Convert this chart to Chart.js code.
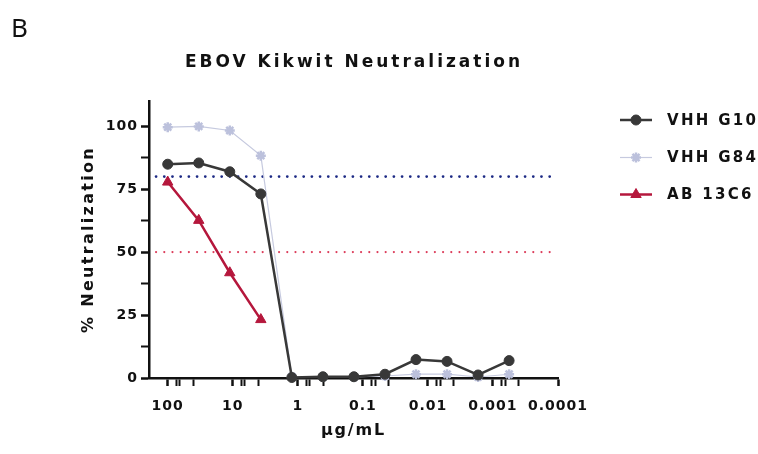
<!DOCTYPE html>
<html><head><meta charset="utf-8">
<script src="https://cdn.jsdelivr.net/npm/chart.js@4.4.1/dist/chart.umd.min.js"></script>
<style>html,body{margin:0;padding:0;background:#fff}canvas{display:block}</style>
</head><body>
<canvas id="c" width="758" height="454"></canvas>
<script>
// ---- data ----
const concentrations = [100, 33.33, 11.11, 3.704, 1.235, 0.4115, 0.1372, 0.04572, 0.01524, 0.005081, 0.001694, 0.0005645];
const vhhG10 = [84.9, 85.4, 81.9, 73.1, 0.2, 0.5, 0.5, 1.5, 7.3, 6.6, 1.2, 6.9];
const vhhG84 = [99.6, 99.9, 98.3, 88.3, 0.5, 0.4, 0.4, 0.8, 1.5, 1.5, 0.4, 1.5];
const ab13C6 = [77.8, 62.6, 41.8, 23.2];
const seriesNames = ['VHH G10', 'VHH G84', 'AB 13C6'];
const xTickValues = [100, 10, 1, 0.1, 0.01, 0.001, 0.0001];
const xTickLabels = ['100', '10', '1', '0.1', '0.01', '0.001', '0.0001'];
const xMinorFactors = [0.73, 0.65, 0.4];
const yTickValues = [0, 25, 50, 75, 100];
const yMinorValues = [12.5, 37.5, 62.5, 87.5];
const thresholdX = [151, 0.000119];
const threshold80 = [80, 80];
const threshold50 = [50, 50];

const FONT = '"DejaVu Sans", "Liberation Sans", Arial, sans-serif';
Chart.defaults.font.family = FONT;
Chart.defaults.color = '#111';

const pts = (ys, xs) => ys.map((y, i) => ({ x: xs[i], y }));

const colors = { g10: '#383838', g84: '#c6cadf', ab: '#b5173c' };

const datasets = [
  { label: seriesNames[0], data: pts(vhhG10, concentrations), borderColor: colors.g10, backgroundColor: colors.g10,
    borderWidth: 2.5, pointStyle: 'circle', pointRadius: 5, pointBorderWidth: 1, pointBorderColor: colors.g10, clip: false },
  { label: seriesNames[1], data: pts(vhhG84, concentrations), borderColor: colors.g84, backgroundColor: '#d8dbec',
    borderWidth: 1.2, pointStyle: 'star', pointRadius: 5, pointBorderWidth: 2.5, pointBorderColor: '#bcc1dc', clip: false },
  { label: seriesNames[2], data: pts(ab13C6, concentrations), borderColor: colors.ab, backgroundColor: colors.ab,
    borderWidth: 2.5, pointStyle: 'triangle', pointRadius: 6, pointBorderWidth: 1, pointBorderColor: colors.ab, clip: false },
  { label: 'ref80', data: pts(threshold80, thresholdX), borderColor: '#1d2a85', borderWidth: 2.8,
    borderDash: [0, 8.2], borderCapStyle: 'round', pointRadius: 0, clip: false },
  { label: 'ref50', data: pts(threshold50, thresholdX), borderColor: '#dc3c5a', borderWidth: 2.2,
    borderDash: [0, 8.2], borderCapStyle: 'round', pointRadius: 0, clip: false }
];

const axisTitleSpacing = { x: '1.8px', y: '2.3px' };
const spacingPlugin = {
  id: 'spacing',
  beforeLayout(chart) { chart.ctx.letterSpacing = '1px'; },
  afterLayout(chart) {
    ['x', 'y'].forEach(id => {
      const s = chart.scales[id];
      if (s && !s._wrappedTitle) {
        const orig = s.drawTitle.bind(s);
        s.drawTitle = function () {
          const c = this.ctx; const prev = c.letterSpacing;
          c.letterSpacing = axisTitleSpacing[id]; orig(); c.letterSpacing = prev;
        };
        s._wrappedTitle = true;
      }
    });
  },
  beforeDraw(chart) { chart.ctx.letterSpacing = '1px'; }
};

function drawMarker(ctx, style, x, y, r, fill, stroke, lw) {
  ctx.save();
  ctx.fillStyle = fill; ctx.strokeStyle = stroke; ctx.lineWidth = lw;
  ctx.beginPath();
  if (style === 'circle') {
    ctx.arc(x, y, r, 0, Math.PI * 2); ctx.fill(); ctx.stroke();
  } else if (style === 'triangle') {
    const s = r * 3 / Math.sqrt(3), h = s * Math.sqrt(3) / 2;
    ctx.moveTo(x, y - 2 * h / 3); ctx.lineTo(x + s / 2, y + h / 3); ctx.lineTo(x - s / 2, y + h / 3);
    ctx.closePath(); ctx.fill(); ctx.stroke();
  } else if (style === 'star') {
    for (let k = 0; k < 4; k++) {
      const a = k * Math.PI / 4;
      ctx.moveTo(x + Math.cos(a) * r, y + Math.sin(a) * r);
      ctx.lineTo(x - Math.cos(a) * r, y - Math.sin(a) * r);
    }
    ctx.stroke();
  }
  ctx.restore();
}

const decorPlugin = {
  id: 'decor',
  afterDraw(chart) {
    const ctx = chart.ctx;
    ctx.save();
    // panel letter
    ctx.letterSpacing = '0px';
    ctx.fillStyle = '#111';
    ctx.font = '400 26px "Noto Sans", "Open Sans", sans-serif';
    ctx.textAlign = 'left'; ctx.textBaseline = 'alphabetic';
    ctx.fillText('B', 11, 37);
    // title
    ctx.letterSpacing = '3px';
    ctx.font = 'bold 17px ' + FONT;
    ctx.textAlign = 'center';
    ctx.fillText('EBOV Kikwit Neutralization', 354, 67);
    // legend
    const rows = [120, 157.5, 194.5];
    ctx.letterSpacing = '2.3px';
    ctx.font = 'bold 15px ' + FONT;
    ctx.textAlign = 'left'; ctx.textBaseline = 'middle';
    for (let i = 0; i < 3; i++) {
      const ds = chart.data.datasets[i];
      const y = rows[i];
      ctx.save();
      ctx.strokeStyle = ds.borderColor; ctx.lineWidth = ds.borderWidth;
      ctx.beginPath(); ctx.moveTo(620, y); ctx.lineTo(652, y); ctx.stroke();
      ctx.restore();
      drawMarker(ctx, ds.pointStyle, 636, y, ds.pointRadius, ds.backgroundColor, ds.pointBorderColor, ds.pointBorderWidth);
      ctx.fillStyle = '#111';
      ctx.fillText(ds.label, 667, y + 1);
    }
    ctx.restore();
  }
};

new Chart(document.getElementById('c'), {
  type: 'line',
  data: { datasets },
  plugins: [spacingPlugin, decorPlugin],
  options: {
    responsive: false,
    animation: false,
    devicePixelRatio: 1,
    layout: { padding: { top: 101, right: 200, left: 0, bottom: 0 } },
    elements: { line: { tension: 0 } },
    plugins: { legend: { display: false }, title: { display: false }, tooltip: { enabled: false } },
    scales: {
      x: {
        type: 'logarithmic', reverse: true, position: 'bottom',
        min: 0.0001, max: 194,
        afterFit(scale) { scale.height = 76; },
        afterBuildTicks(scale) {
          const t = [];
          xTickValues.forEach((v, i) => {
            t.push({ value: v, major: true });
            if (i < xTickValues.length - 1) xMinorFactors.forEach(f => t.push({ value: v * f }));
          });
          scale.ticks = t;
        },
        grid: { drawOnChartArea: false, drawTicks: true, tickLength: 8, tickColor: '#111',
          tickWidth: c => (c.tick && xTickValues.includes(c.tick.value)) ? 2.5 : 2 },
        border: { display: true, color: '#111', width: 2.5 },
        ticks: {
          autoSkip: false, maxRotation: 0, padding: 12,
          font: { size: 14, weight: 'bold' }, color: '#111',
          callback(value) { const i = xTickValues.indexOf(value); return i >= 0 ? xTickLabels[i] : ''; }
        },
        title: { display: true, text: 'µg/mL', font: { size: 16, weight: 'bold' }, color: '#111', padding: { top: 0, bottom: 14 } }
      },
      y: {
        type: 'linear', min: 0, max: 110,
        afterFit(scale) { scale.width = 149; },
        afterBuildTicks(scale) {
          scale.ticks = yTickValues.concat(yMinorValues).sort((a, b) => a - b).map(v => ({ value: v }));
        },
        grid: { drawOnChartArea: false, drawTicks: true, tickLength: 8, tickColor: '#111',
          tickWidth: c => (c.tick && yTickValues.includes(c.tick.value)) ? 2.5 : 2 },
        border: { display: true, color: '#111', width: 2.5 },
        ticks: {
          autoSkip: false, padding: 3,
          font: { size: 14, weight: 'bold' }, color: '#111',
          callback(value) { return yTickValues.includes(value) ? String(value) : ''; }
        },
        title: { display: true, text: '% Neutralization', font: { size: 16, weight: 'bold' }, color: '#111', padding: { top: 79, bottom: 0 } }
      }
    }
  }
});
</script>
</body></html>
